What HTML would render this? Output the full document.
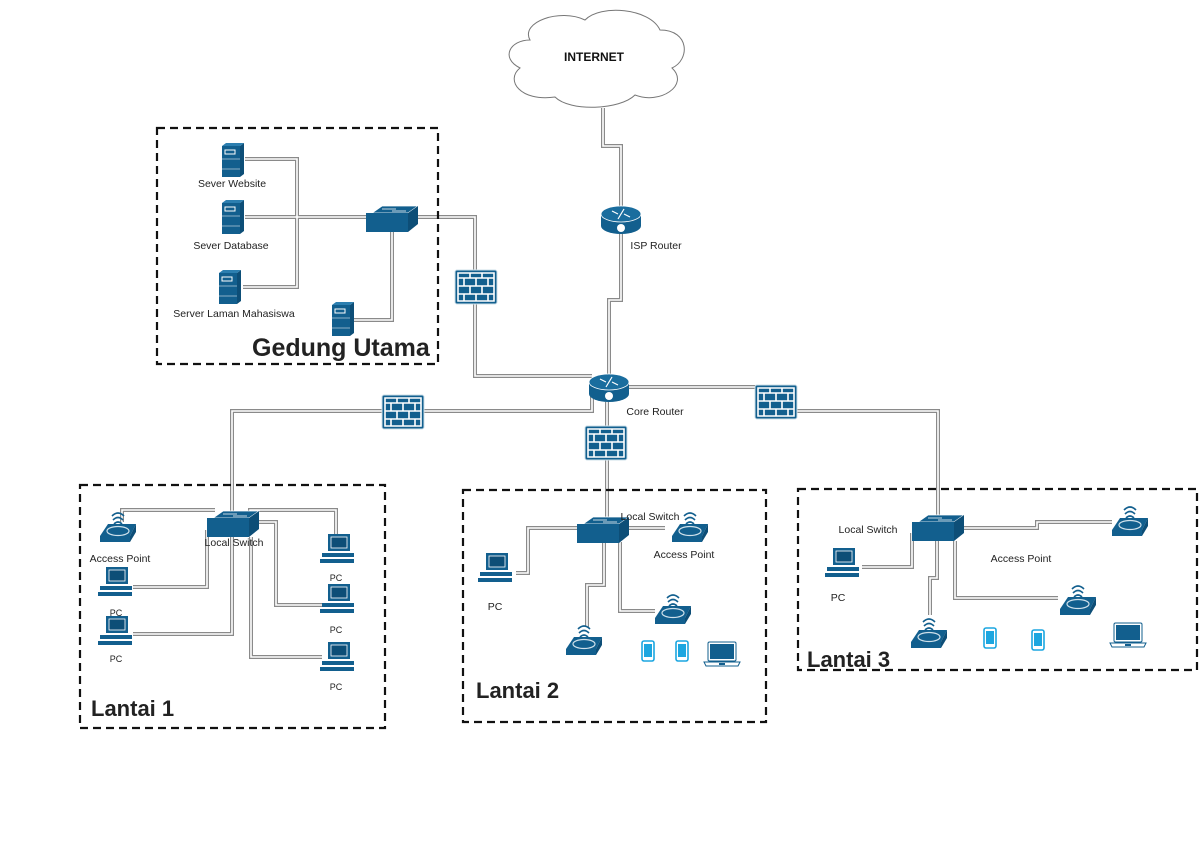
<!DOCTYPE html>
<html><head><meta charset="utf-8"><style>
html,body{margin:0;padding:0;background:#fff;}
svg{display:block;}
text{font-family:"Liberation Sans",Arial,sans-serif;fill:#222;}
</style></head><body>
<svg width="1200" height="845" viewBox="0 0 1200 845" xmlns="http://www.w3.org/2000/svg">
<defs>
<g id="sw">
  <polygon points="-20,-6 -10,-13 26,-13 16,-6" fill="#125f8e" stroke="#fff" stroke-width="0.8"/>
  <rect x="-26" y="-6" width="42" height="19" fill="#125f8e"/>
  <polygon points="16,-6 26,-13 26,5 16,13" fill="#0d4e77"/>
  <path d="M-10,-10 h14 M0,-8 h14" stroke="#fff" stroke-width="0.8"/>
</g>
<g id="rt">
  <path d="M-20,-6 v12 a20,8 0 0 0 40,0 v-12 z" fill="#125f8e"/>
  <ellipse cx="0" cy="-6" rx="20" ry="8" fill="#1a6d9e" stroke="#fff" stroke-width="0.8"/>
  <path d="M-9,-9 l6,3 M9,-3 l-6,-3 M3,-11 l-3,5 M-3,-1 l3,-5" stroke="#fff" stroke-width="1.2"/>
  <circle cx="0" cy="8" r="4" fill="#fff"/>
</g>
<g id="fw">
  <rect x="-21" y="-17" width="42" height="34" rx="2" fill="#125f8e" stroke="#cfe0ea" stroke-width="1"/>
  <g stroke="#fff" stroke-width="1.6" fill="none">
    <path d="M-18,-9 h36 M-18,-1 h36 M-18,7 h36 M-18,-14 h36 v28 h-36 z"/>
    <path d="M-6,-14 v5 M6,-14 v5 M-12,-9 v8 M0,-9 v8 M12,-9 v8 M-6,-1 v8 M6,-1 v8 M-12,7 v7 M0,7 v7 M12,7 v7"/>
  </g>
</g>
<g id="sv">
  <rect x="-11" y="-15" width="18" height="31" fill="#125f8e"/>
  <polygon points="7,-15 11,-18 11,13 7,16" fill="#0d4e77"/>
  <polygon points="-11,-15 -7,-18 11,-18 7,-15" fill="#2c7fb0"/>
  <rect x="-8" y="-11" width="10" height="4" fill="none" stroke="#fff" stroke-width="1"/>
  <path d="M-11,-2 h18 M-11,8 h18" stroke="#fff" stroke-width="0.6"/>
</g>
<g id="pc">
  <rect x="-10" y="-15" width="22" height="17" fill="#125f8e"/>
  <rect x="-7" y="-12" width="16" height="11" fill="#0d4e77" stroke="#fff" stroke-width="0.8"/>
  <rect x="-16" y="4" width="32" height="4" fill="#125f8e"/>
  <rect x="-18" y="10" width="34" height="4" fill="#125f8e"/>
  <path d="M-16,8.5 h32" stroke="#fff" stroke-width="1"/>
</g>
<g id="ap">
  <polygon points="-18,8 -10,-4 18,-4 12,8" fill="#125f8e"/>
  <polygon points="12,8 18,-4 18,4 12,14" fill="#0d4e77"/>
  <rect x="-18" y="8" width="30" height="6" fill="#125f8e"/>
  <ellipse cx="0" cy="3" rx="11" ry="4.5" fill="#125f8e" stroke="#cfe0ea" stroke-width="1.2"/>
  <g fill="none" stroke="#125f8e" stroke-width="1.6">
    <path d="M-4,-4 q4,-4 8,0"/><path d="M-5,-8 q5,-5 10,0"/><path d="M-6,-12 q6,-6 12,0"/>
  </g>
</g>
<g id="ph">
  <rect x="-6" y="-10" width="12" height="20" rx="2" fill="#fff" stroke="#1ba6e0" stroke-width="1.6"/>
  <rect x="-4" y="-7" width="8" height="13" fill="#1ba6e0"/>
</g>
<g id="lp">
  <rect x="-14" y="-12" width="28" height="19" rx="1.5" fill="#fff" stroke="#125f8e" stroke-width="1"/>
  <rect x="-12" y="-10" width="24" height="15" fill="#125f8e"/>
  <polygon points="-18,8 18,8 16,12 -16,12" fill="#fff" stroke="#125f8e" stroke-width="1"/>
  <rect x="-3" y="9" width="6" height="2" fill="#125f8e"/>
</g>
</defs>

<!-- cloud -->
<path d="M530,40 C520,22 560,8 585,20 C600,4 650,8 660,30 C690,30 690,60 672,68 C690,85 660,105 635,95 C620,110 570,112 555,97 C520,102 505,80 520,68 C500,58 510,40 530,40 Z" fill="#fff" stroke="#777" stroke-width="1"/>
<text x="594" y="61" font-size="12" font-weight="bold" text-anchor="middle" style="fill:#111">INTERNET</text>

<!-- connectors -->
<g fill="none" stroke-linejoin="miter">
<g stroke="#8a8a8a" stroke-width="4">
<path id="c1" d="M603,108 V146 H621 V300 H609 V375"/>
<path d="M245,159 H297 V287 H243"/>
<path d="M245,217 H366"/>
<path d="M392,230 V320 H354"/>
<path d="M418,217 H475 V376 H592"/>
<path d="M592,392 V411 H232 V512"/>
<path d="M607,402 V517"/>
<path d="M629,387 H760 M790,411 H938 V516"/>
<path d="M122,522 V510 H215 M250,512 V510 H336 V538"/>
<path d="M254,522 H276 V605 H322"/>
<path d="M251,537 V657 H322"/>
<path d="M207,530 V587 H133 M232,537 V634 H133"/>
<path d="M577,528 H528 V573 H516 M628,528 H665 M604,542 V585 H587 V627 M620,542 V611 H655"/>
<path d="M962,528 H1037 V522 H1112 M912,533 V567 H862 M937,541 V578 H930 V615 M955,541 V598 H1058"/>
</g>
<g stroke="#fff" stroke-width="1.6">
<path d="M603,108 V146 H621 V300 H609 V375"/>
<path d="M245,159 H297 V287 H243"/>
<path d="M245,217 H366"/>
<path d="M392,230 V320 H354"/>
<path d="M418,217 H475 V376 H592"/>
<path d="M592,392 V411 H232 V512"/>
<path d="M607,402 V517"/>
<path d="M629,387 H760 M790,411 H938 V516"/>
<path d="M122,522 V510 H215 M250,512 V510 H336 V538"/>
<path d="M254,522 H276 V605 H322"/>
<path d="M251,537 V657 H322"/>
<path d="M207,530 V587 H133 M232,537 V634 H133"/>
<path d="M577,528 H528 V573 H516 M628,528 H665 M604,542 V585 H587 V627 M620,542 V611 H655"/>
<path d="M962,528 H1037 V522 H1112 M912,533 V567 H862 M937,541 V578 H930 V615 M955,541 V598 H1058"/>
</g>
</g>

<!-- boxes -->
<g fill="none" stroke="#111" stroke-width="2.2" stroke-dasharray="8,5">
<rect x="157" y="128" width="281" height="236"/>
<rect x="80" y="485" width="305" height="243"/>
<rect x="463" y="490" width="303" height="232"/>
<rect x="798" y="489" width="399" height="181"/>
</g>

<!-- devices -->
<use href="#rt" x="621" y="220"/>
<use href="#rt" x="609" y="388"/>
<use href="#fw" x="476" y="287"/>
<use href="#fw" x="403" y="412"/>
<use href="#fw" x="606" y="443"/>
<use href="#fw" x="776" y="402"/>
<use href="#sv" x="233" y="161"/>
<use href="#sv" x="233" y="218"/>
<use href="#sv" x="230" y="288"/>
<use href="#sv" x="343" y="320"/>
<use href="#sw" x="392" y="219"/>

<use href="#sw" x="233" y="524"/>
<use href="#ap" x="118" y="528"/>
<use href="#pc" x="116" y="582"/>
<use href="#pc" x="116" y="631"/>
<use href="#pc" x="338" y="549"/>
<use href="#pc" x="338" y="599"/>
<use href="#pc" x="338" y="657"/>

<use href="#sw" x="603" y="530"/>
<use href="#ap" x="690" y="528"/>
<use href="#pc" x="496" y="568"/>
<use href="#ap" x="584" y="641"/>
<use href="#ap" x="673" y="610"/>
<use href="#ph" x="648" y="651"/>
<use href="#ph" x="682" y="651"/>
<use href="#lp" x="722" y="654"/>

<use href="#sw" x="938" y="528"/>
<use href="#pc" x="843" y="563"/>
<use href="#ap" x="1130" y="522"/>
<use href="#ap" x="1078" y="601"/>
<use href="#ap" x="929" y="634"/>
<use href="#ph" x="990" y="638"/>
<use href="#ph" x="1038" y="640"/>
<use href="#lp" x="1128" y="635"/>

<!-- labels -->
<g font-size="10.5" text-anchor="middle">
<text x="656" y="249">ISP Router</text>
<text x="655" y="415">Core Router</text>
<text x="232" y="187">Sever Website</text>
<text x="231" y="249">Sever Database</text>
<text x="234" y="317">Server Laman Mahasiswa</text>
<text x="234" y="546">Local Switch</text>
<text x="120" y="562">Access Point</text>
<text x="116" y="616" font-size="9">PC</text>
<text x="116" y="662" font-size="9">PC</text>
<text x="336" y="581" font-size="9">PC</text>
<text x="336" y="633" font-size="9">PC</text>
<text x="336" y="690" font-size="9">PC</text>
<text x="650" y="520">Local Switch</text>
<text x="684" y="558">Access Point</text>
<text x="495" y="610">PC</text>
<text x="868" y="533">Local Switch</text>
<text x="1021" y="562">Access Point</text>
<text x="838" y="601">PC</text>
</g>
<g font-weight="bold" style="fill:#111">
<text x="252" y="356" font-size="25">Gedung Utama</text>
<text x="91" y="716" font-size="22">Lantai 1</text>
<text x="476" y="698" font-size="22">Lantai 2</text>
<text x="807" y="667" font-size="22">Lantai 3</text>
</g>
</svg>
</body></html>
